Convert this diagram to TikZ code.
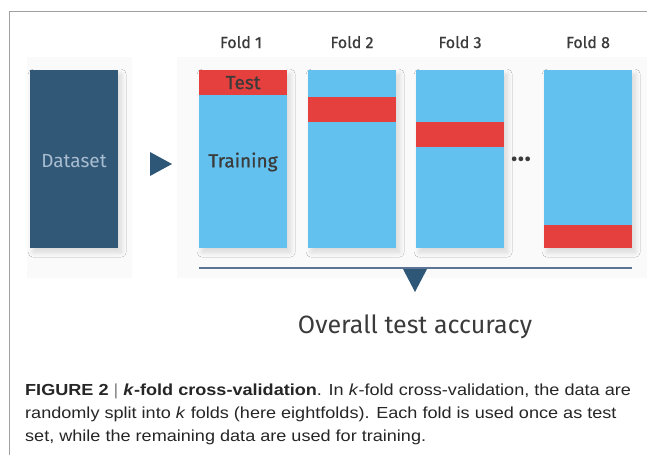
\documentclass[tikz,border=0pt]{standalone}
\usepackage{fontspec}
\setmainfont{Fira Sans}
\newfontfamily\medfont[FakeBold=0.8]{Fira Sans}
\newfontfamily\capfont[FakeStretch=1.13]{Liberation Sans}
\usetikzlibrary{shadows.blur}

\definecolor{dsfill}{RGB}{50,88,120}
\definecolor{dstext}{RGB}{168,189,208}
\definecolor{trainblue}{RGB}{98,193,238}
\definecolor{testred}{RGB}{229,64,61}
\definecolor{inktext}{RGB}{59,59,59}
\definecolor{ruleblue}{RGB}{91,115,149}
\definecolor{markblue}{RGB}{46,86,119}
\definecolor{panelgray}{RGB}{250,250,250}
\definecolor{framegray}{RGB}{160,160,160}

\begin{document}
\begin{tikzpicture}[x=1pt,y=-1pt,
  panel/.style={fill=panelgray, draw=none},
  softshadow/.style={blur shadow={shadow xshift=3pt, shadow yshift=-4pt, shadow blur steps=10, shadow blur radius=5pt, shadow opacity=14}},
  foldbox/.style={rectangle, fill=trainblue, inner sep=0pt, minimum width=88pt, minimum height=178pt, anchor=north west, softshadow},
  testband/.style={rectangle, fill=testred, inner sep=0pt, minimum width=88pt, minimum height=25pt, anchor=north west},
  foldlabel/.style={font=\medfont\fontsize{16}{18}\selectfont, text=inktext},
  inlabel/.style={font=\medfont\fontsize{19}{21}\selectfont, text=inktext},
  captionline/.style={anchor=base west, inner sep=0pt, font=\capfont\fontsize{16}{19}\selectfont, text=black!85}
]
\useasboundingbox (0,0) rectangle (647,455);
\fill[white] (0,0) rectangle (647,455);

% page frame
\draw[framegray, line width=1pt] (9,455) -- (9,11) -- (647,11);

% faint backing panels
\fill[panel] (27,57) rectangle (132,278);
\fill[panel] (177,57) rectangle (647,278);

% dataset block
\node[rectangle, fill=dsfill, inner sep=0pt, minimum width=88pt, minimum height=178pt,
      anchor=north west, softshadow] (data) at (30,70) {};
\node[text=dstext, font=\fontsize{19}{21}\selectfont] (datalbl) at (74,161) {Dataset};

% split marker
\fill[markblue] (150,152) -- (172,164) -- (150,176) -- cycle;

% folds
\node[foldbox] (f1) at (199,70) {};
\node[foldbox] (f2) at (308,70) {};
\node[foldbox] (f3) at (416,70) {};
\node[foldbox] (f8) at (544,70) {};

\node[testband] (t1) at (199,70) {};
\node[testband] (t2) at (308,97) {};
\node[testband] (t3) at (416,122) {};
\node[testband, minimum height=23pt] (t8) at (544,225) {};

\node[inlabel] (testlbl) at (t1.center) {Test};
\node[inlabel] (train) at (243,162) {Training};
\node[text=inktext, font=\fontsize{21}{22}\selectfont, inner sep=0pt] (dots) at (521,162) {•••};

\node[foldlabel, anchor=base] (l1) at (241,48) {Fold 1};
\node[foldlabel, anchor=base] (l2) at (352,48) {Fold 2};
\node[foldlabel, anchor=base] (l3) at (460,48) {Fold 3};
\node[foldlabel, anchor=base] (l8) at (588,48) {Fold 8};

% aggregation rule and marker
\coordinate (ruleL) at (199,268);
\coordinate (ruleR) at (632,268);
\draw[ruleblue, line width=2pt] (ruleL) -- (ruleR);
\fill[markblue] (403,269) -- (427,269) -- (415,292) -- cycle;

\node[font=\fontsize{25}{28}\selectfont, text=inktext, anchor=base] (acc) at (415,333) {Overall test accuracy};

% caption
\node[captionline] (c1) at (25,395) {\textbf{FIGURE 2} \textcolor{black!50}{|} \textbf{\textit{k}-fold cross-validation}. In \textit{k}-fold cross-validation, the data are};
\node[captionline] (c2) at (25,418) {randomly split into \textit{k} folds (here eightfolds). Each fold is used once as test};
\node[captionline] (c3) at (25,441) {set, while the remaining data are used for training.};
\end{tikzpicture}
\end{document}
